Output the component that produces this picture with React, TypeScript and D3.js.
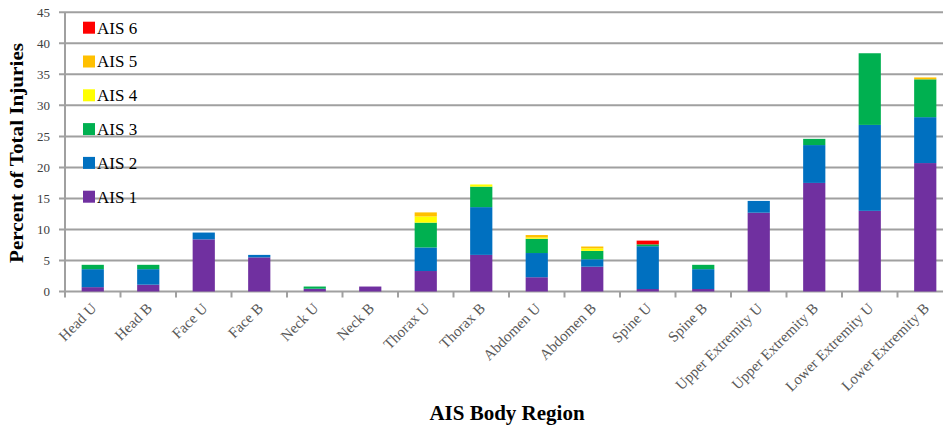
import React from "react";
import * as d3 from "d3";

const categories = ["Head U","Head B","Face U","Face B","Neck U","Neck B","Thorax U","Thorax B","Abdomen U","Abdomen B","Spine U","Spine B","Upper Extremity U","Upper Extremity B","Lower Extremity U","Lower Extremity B"];
const ais1 = [0.7,1.1,8.4,5.5,0.4,0.8,3.3,5.9,2.3,4.0,0.4,0.4,12.7,17.5,13.0,20.7];
const ais2 = [2.9,2.5,1.1,0.4,0.05,0,3.8,7.7,3.9,1.2,6.9,3.2,1.9,6.1,13.85,7.4];
const ais3 = [0.7,0.7,0,0,0.35,0,4.0,3.3,2.3,1.35,0.3,0.7,0,1.0,11.55,6.1];
const ais4 = [0,0,0,0,0,0,1.0,0.35,0.2,0.4,0,0,0,0,0,0];
const ais5 = [0,0,0,0,0,0,0.65,0,0.4,0.3,0,0,0,0,0,0.3];
const ais6 = [0,0,0,0,0,0,0,0,0,0,0.6,0,0,0,0,0];
const seriesNames = ["AIS 1","AIS 2","AIS 3","AIS 4","AIS 5","AIS 6"];
const seriesColors = ["#7030A0","#0070C0","#00B050","#FFFF00","#FFC000","#FF0000"];
const yTicks = [0,5,10,15,20,25,30,35,40,45];

const W = 943, H = 428;
const left = 65, zeroY = 291.5, topY = 12.3;
const step = 55.5;

export default function App() {
  const seriesValues = [ais1, ais2, ais3, ais4, ais5, ais6];
  const rows = categories.map((c, i) => {
    const r: any = { cat: c };
    seriesNames.forEach((s, k) => (r[s] = seriesValues[k][i]));
    return r;
  });
  const stacked = d3.stack().keys(seriesNames)(rows);
  const x = d3.scaleBand().domain(categories).range([left, left + step * categories.length]).paddingInner(0.6).paddingOuter(0.3);
  const y = d3.scaleLinear().domain([0, 45]).range([zeroY, topY]);
  const font = "'Liberation Serif', 'Times New Roman', serif";
  return (
    <svg width={W} height={H} style={{ position: "absolute", left: 0, top: 0, background: "#fff" }} fontFamily={font}>
      {yTicks.map((t) => (
        <g key={t}>
          <line x1={left - 6} x2={W} y1={y(t)} y2={y(t)} stroke="#a0a0a0" strokeWidth={2} />
          <text x={50} y={y(t)} dy="0.35em" textAnchor="end" fontSize={13} fill="#404040">{t}</text>
        </g>
      ))}
      <line x1={left} x2={left} y1={topY} y2={zeroY + 6} stroke="#a0a0a0" strokeWidth={2} />
      {categories.map((c, i) => (
        <line key={c} x1={left + step * (i + 1)} x2={left + step * (i + 1)} y1={zeroY} y2={zeroY + 6} stroke="#a0a0a0" strokeWidth={2} />
      ))}
      {stacked.map((s, k) => (
        <g key={s.key} fill={seriesColors[k]}>
          {s.map((d, i) => {
            const h = y(d[0]) - y(d[1]);
            if (h <= 0) return null;
            return <rect key={i} x={x(categories[i])} width={x.bandwidth()} y={y(d[1])} height={h} />;
          })}
        </g>
      ))}
      {categories.map((c) => {
        const cx = (x(c) as number) + x.bandwidth() / 2;
        return (
          <text key={c} transform={`translate(${cx + 1},${zeroY + 14}) rotate(-45)`} textAnchor="end" dy="0.35em" fontSize={15} fill="#595959">{c}</text>
        );
      })}
      {seriesNames.map((s, k) => {
        const yy = 196.7 - k * 33.8;
        return (
          <g key={s}>
            <rect x={83} y={yy - 6} width={12} height={12} fill={seriesColors[k]} />
            <text x={97} y={yy} dy="0.35em" fontSize={17} fill="#000">{s}</text>
          </g>
        );
      })}
      <text transform={`translate(23,153) rotate(-90)`} textAnchor="middle" fontSize={18} fontWeight="bold" fill="#000" textLength={220} lengthAdjust="spacingAndGlyphs">Percent of Total Injuries</text>
      <text x={507} y={420} textAnchor="middle" fontSize={21} fontWeight="bold" fill="#000">AIS Body Region</text>
    </svg>
  );
}
